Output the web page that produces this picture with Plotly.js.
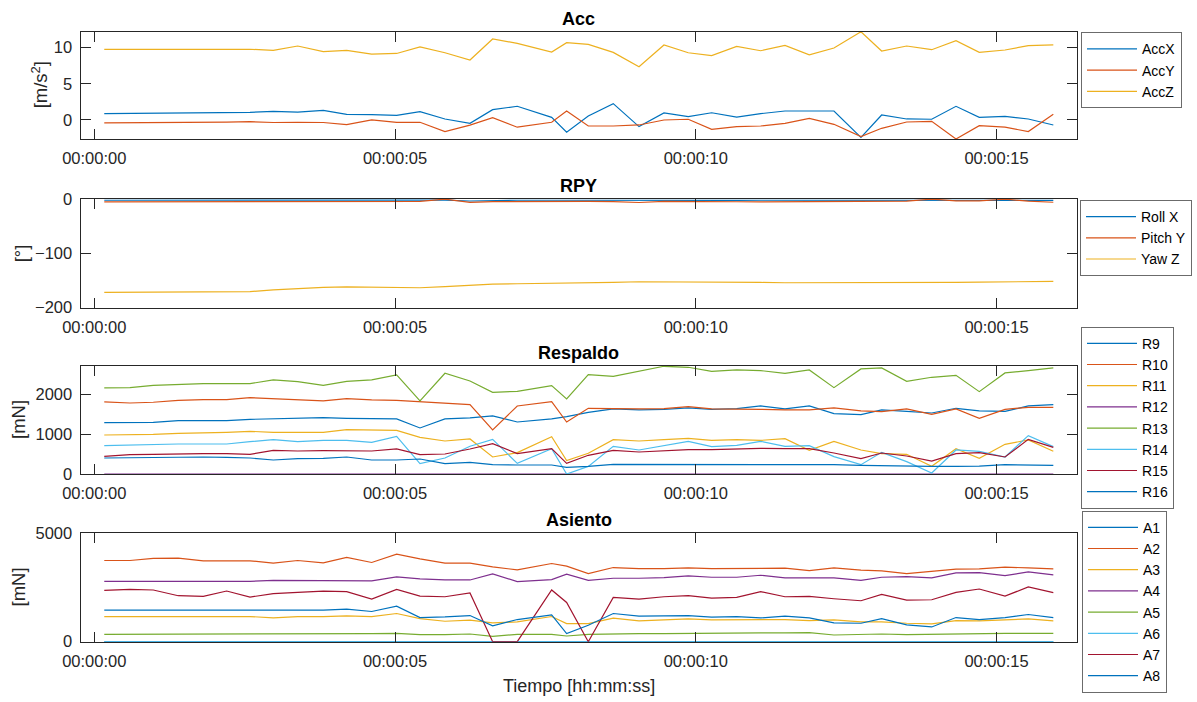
<!DOCTYPE html>
<html>
<head>
<meta charset="utf-8">
<script src="https://cdn.plot.ly/plotly-3.0.1.min.js"></script>
<style>
html,body{margin:0;padding:0;background:#fff;}
#chart{width:1197px;height:702px;}
</style>
</head>
<body>
<div id="chart"></div>
<script>
// ---------------- DATA ----------------
const timeSec = [0.166,0.593,0.981,1.396,1.812,2.201,2.589,2.976,3.382,3.807,
  4.196,4.612,5.027,5.415,5.830,6.246,6.623,7.032,7.604,7.853,
  8.213,8.628,9.056,9.471,9.875,10.264,10.680,11.079,11.483,11.887,
  12.297,12.746,13.090,13.506,13.922,14.326,14.713,15.141,15.528,15.944];

const timeTickVals = [0, 5, 10, 15];
const timeTickText = ['00:00:00', '00:00:05', '00:00:10', '00:00:15'];

const accNames = ['AccX', 'AccY', 'AccZ'];
const accX = [0.88,0.9,0.92,0.94,0.96,0.99,1.06,1.2,1.1,1.34,
  0.78,0.75,0.65,1.15,0.14,-0.46,1.43,1.9,0.37,-1.7,
  0.55,2.26,-0.92,0.97,0.46,1.0,0.41,0.88,1.24,1.24,
  1.24,-2.4,0.69,0.14,0.1,1.89,0.37,0.5,0.14,-0.69];
const accY = [-0.41,-0.4,-0.38,-0.36,-0.34,-0.3,-0.23,-0.35,-0.33,-0.35,
  -0.65,0.0,-0.32,-0.32,-1.6,-0.7,0.32,-1.0,-0.32,1.24,
  -0.83,-0.83,-0.69,0.0,0.1,-1.3,-0.92,-0.83,-0.46,0.23,
  -0.6,-2.3,-1.15,-0.28,-0.18,-2.63,-0.78,-1.0,-1.6,0.78];
const accZ = [9.77,9.78,9.78,9.8,9.8,9.8,9.78,9.63,10.23,9.45,
  9.63,9.12,9.2,10.1,9.3,8.3,11.2,10.6,9.4,10.7,
  10.46,9.35,7.37,10.37,9.3,8.9,10.18,9.58,10.32,9.0,
  9.95,12.2,9.54,10.23,9.72,10.97,9.35,9.68,10.28,10.4];

const rpyNames = ['Roll X', 'Pitch Y', 'Yaw Z'];
const rollX = [-1.8,-1.8,-1.8,-1.8,-1.8,-1.8,-1.8,-1.8,-1.8,-1.8,
  -1.8,-1.7,-1.8,-1.8,-1.4,-3.2,-1.9,-1.8,-1.8,-1.9,
  -1.8,-1.6,-2.6,-1.8,-1.8,-1.8,-1.9,-1.8,-1.8,-1.8,
  -1.8,-1.9,-1.8,-1.8,-1.7,-1.8,-1.8,-1.7,-1.8,-1.9];
const pitchY = [-4.8,-4.8,-4.8,-4.7,-4.7,-4.6,-4.6,-4.5,-4.4,-4.4,
  -4.3,-4.5,-4.2,-3.8,0.2,-5.8,-4.2,-3.8,-3.5,-3.2,
  -4.0,-4.5,-6.0,-4.0,-3.8,-3.9,-4.6,-4.8,-4.8,-4.4,
  -3.8,-4.4,-4.0,-3.6,0.3,-2.8,-3.0,0.2,-3.5,-5.5];
const yawZ = [-171.8,-171.8,-171.7,-171.6,-171.5,-171.4,-170.5,-167,-164.5,-162.5,
  -161.5,-162,-163.2,-163.2,-161.3,-158.9,-156.4,-155.8,-155.2,-154.6,
  -154,-153.4,-152.1,-152.1,-152.1,-152.1,-152.8,-153.4,-154,-154,
  -154.6,-154.6,-154.6,-154,-153.4,-153.4,-152.8,-152.8,-152.1,-151.5];

const respaldoNames = ['R9','R10','R11','R12','R13','R14','R15','R16'];
const r9 = [1289,1295,1297,1339,1335,1339,1372,1389,1406,1414,
  1397,1389,1381,1155,1381,1406,1456,1305,1381,1439,
  1548,1632,1607,1623,1657,1623,1640,1707,1632,1707,
  1515,1490,1607,1573,1531,1649,1582,1573,1707,1741];
const r10 = [1808,1782,1800,1849,1866,1866,1916,1891,1849,1833,
  1891,1858,1849,1816,1774,1741,1105,1707,1816,1305,
  1649,1632,1632,1640,1690,1632,1632,1623,1607,1607,
  1657,1582,1565,1632,1498,1632,1397,1623,1674,1674];
const r11 = [979,979,995,1021,1029,1046,1071,1046,1046,1046,
  1113,1096,1096,921,828,879,427,536,937,335,
  519,862,828,862,895,845,862,845,887,594,
  820,603,510,494,192,636,393,745,854,569];
const r12 = [0,0,0,0,0,0,0,0,0,0, 0,0,0,0,0,0,0,0,0,0,
  0,0,0,0,0,0,0,0,0,0, 0,0,0,0,0,0,0,0,0,0];
const r13 = [2159,2167,2226,2251,2268,2268,2268,2360,2318,2226,
  2326,2360,2485,1833,2527,2335,2050,2075,2218,1883,
  2494,2452,2586,2703,2678,2577,2611,2594,2527,2611,
  2167,2636,2661,2326,2427,2477,2067,2536,2594,2661];
const r14 = [711,728,745,753,753,753,812,862,812,845,
  845,795,946,259,402,695,870,268,636,0,
  192,695,603,711,820,686,720,820,695,711,
  435,234,544,310,25,603,569,427,962,686];
const r15 = [444,485,494,510,510,510,494,594,577,585,
  577,577,628,485,502,628,762,510,636,268,
  469,594,552,586,611,611,636,644,636,636,
  527,385,527,452,326,510,536,427,870,669];
const r16 = [402,410,418,427,427,418,402,351,385,393,
  427,351,351,377,259,293,234,226,226,167,
  192,243,243,243,243,243,243,243,243,243,
  234,218,210,192,192,192,200,234,234,218];

const asientoNames = ['A1','A2','A3','A4','A5','A6','A7','A8'];
const a1 = [0,0,0,0,0,0,0,0,0,0, 0,0,0,0,0,0,0,0,0,0,
  0,0,0,0,0,0,0,0,0,0, 0,0,0,0,0,0,0,0,0,0];
const a2 = [3746,3746,3839,3855,3731,3746,3731,3622,3746,3638,
  3886,3653,4040,3824,3622,3622,3452,3313,3607,3483,
  3142,3421,3375,3375,3406,3375,3375,3375,3390,3282,
  3406,3297,3266,3142,3251,3344,3359,3437,3406,3359];
const a3 = [1161,1161,1161,1161,1161,1161,1161,1099,1161,1161,
  1192,1161,1300,1068,944,991,867,913,1161,836,
  836,1084,960,1006,1053,1006,1006,1037,1022,975,
  1006,913,913,851,820,975,960,1006,1053,960];
const a4 = [2786,2786,2786,2786,2786,2786,2786,2833,2817,2802,
  2802,2802,2988,2895,2848,2848,3127,2771,2864,3111,
  2833,2926,2926,2957,3034,2972,2972,3065,2941,2941,
  2941,2833,2972,3003,2941,3173,3189,3050,3220,3080];
const a5 = [341,341,341,341,341,356,356,372,356,356,
  372,372,387,325,325,356,248,341,341,263,
  341,372,372,372,387,403,418,403,403,418,
  310,341,356,325,341,387,387,387,387,387];
const a6 = [0,0,0,0,0,0,0,0,0,0, 0,0,0,0,0,0,0,0,0,0,
  0,0,0,0,0,0,0,0,0,0, 0,0,0,0,0,0,0,0,0,0];
const a7 = [2368,2415,2384,2121,2090,2337,2059,2214,2276,2337,
  2307,1966,2415,2105,2074,2245,0,0,2384,1811,
  0,2043,1966,2074,2121,2012,2043,2307,2074,2090,
  1981,1889,2183,1920,1935,2276,2430,2105,2523,2260];
const a8 = [1455,1455,1455,1455,1455,1455,1455,1455,1424,1455,
  1502,1393,1641,1115,1146,1207,728,1022,1238,372,
  759,1300,1176,1176,1207,1130,1161,1099,1176,1099,
  867,851,1068,774,681,1115,1022,1115,1254,1115];

const panelTitles = ['Acc', 'RPY', 'Respaldo', 'Asiento'];
const yTitles = ['[m/s<sup>2</sup>]', '[°]', '[mN]', '[mN]'];
const xTitle = 'Tiempo [hh:mm:ss]';

// ---------------- STYLE / LAYOUT ----------------
const W = 1197, H = 702;
const FONT = '"Liberation Sans", Arial, Helvetica, sans-serif';
const INK = '#262626';
const colorOrder = ['#0072BD','#D95319','#EDB120','#7E2F8E','#77AC30','#4DBEEE','#A2142F'];
const px = x => x / W;
const py = y => 1 - y / H;

const xLeft = 80.5, xRight = 1077.2;
const panels = [
  {top: 31.7,  bottom: 139.0, range: [-2.63, 12.21], ticks: [0, 5, 10], yTitleX: 40, legendTop: 32.3, legendLeft: 1081},
  {top: 199.0, bottom: 307.7, range: [-200, 0.5],    ticks: [-200, -100, 0], yTitleX: 21, legendTop: 200, legendLeft: 1080},
  {top: 366.0, bottom: 474.0, range: [0, 2710],      ticks: [0, 1000, 2000], yTitleX: 18, legendTop: 326.7, legendLeft: 1081},
  {top: 533.3, bottom: 641.7, range: [0, 5000],      ticks: [0, 5000], yTitleX: 18, legendTop: 510.7, legendLeft: 1082}
];

const groups = [
  {names: accNames, series: [accX, accY, accZ]},
  {names: rpyNames, series: [rollX, pitchY, yawZ]},
  {names: respaldoNames, series: [r9, r10, r11, r12, r13, r14, r15, r16]},
  {names: asientoNames, series: [a1, a2, a3, a4, a5, a6, a7, a8]}
];

const traces = [];
groups.forEach((g, gi) => {
  const sfx = gi === 0 ? '' : String(gi + 1);
  g.series.forEach((vals, si) => {
    traces.push({
      type: 'scatter', mode: 'lines',
      x: timeSec, y: vals, name: g.names[si],
      xaxis: 'x' + sfx, yaxis: 'y' + sfx,
      legend: 'legend' + sfx,
      line: {color: colorOrder[si % colorOrder.length], width: 1.2},
      hoverinfo: 'skip'
    });
  });
});

const layout = {
  width: W, height: H,
  margin: {l: 0, r: 0, t: 0, b: 0, pad: 0},
  paper_bgcolor: '#fff', plot_bgcolor: '#fff',
  font: {family: FONT, color: INK, size: 16},
  showlegend: true,
  annotations: []
};

panels.forEach((p, i) => {
  const sfx = i === 0 ? '' : String(i + 1);
  const common = {
    showline: true, linecolor: INK, linewidth: 1, mirror: 'ticks',
    ticks: 'inside', ticklen: 10, tickwidth: 1, tickcolor: INK,
    showgrid: false, zeroline: false, fixedrange: true,
    tickfont: {family: FONT, size: 16.5, color: INK}
  };
  layout['xaxis' + sfx] = Object.assign({}, common, {
    domain: [px(xLeft), px(xRight)],
    anchor: 'y' + sfx,
    range: [-0.229, 16.341],
    tickmode: 'array', tickvals: timeTickVals, ticktext: timeTickText,
    ticklabelstandoff: 4
  });
  layout['yaxis' + sfx] = Object.assign({}, common, {
    domain: [py(p.bottom), py(p.top)],
    anchor: 'x' + sfx,
    range: p.range,
    tickmode: 'array', tickvals: p.ticks,
    ticklabelstandoff: 4
  });
  layout['legend' + sfx] = {
    x: px(p.legendLeft), y: py(p.legendTop), xanchor: 'left', yanchor: 'top',
    bgcolor: '#fff', bordercolor: '#6b6b6b', borderwidth: 1,
    font: {family: FONT, size: 14, color: '#000'},
    itemwidth: 50, tracegroupgap: 0
  };
  layout.annotations.push({
    xref: 'paper', yref: 'paper', x: px((xLeft + xRight) / 2), y: py(p.top - 13),
    xanchor: 'center', yanchor: 'middle', showarrow: false,
    text: '<b>' + panelTitles[i] + '</b>',
    font: {family: FONT, size: 18, color: '#000'}
  });
  layout.annotations.push({
    xref: 'paper', yref: 'paper', x: px(p.yTitleX), y: py((p.top + p.bottom) / 2),
    xanchor: 'center', yanchor: 'middle', showarrow: false, textangle: -90,
    text: yTitles[i],
    font: {family: FONT, size: 18.5, color: INK}
  });
});

layout.annotations.push({
  xref: 'paper', yref: 'paper', x: px((xLeft + xRight) / 2), y: py(686),
  xanchor: 'center', yanchor: 'middle', showarrow: false,
  text: xTitle, font: {family: FONT, size: 18, color: INK}
});

Plotly.newPlot('chart', traces, layout, {staticPlot: true, displayModeBar: false});
</script>
</body>
</html>
